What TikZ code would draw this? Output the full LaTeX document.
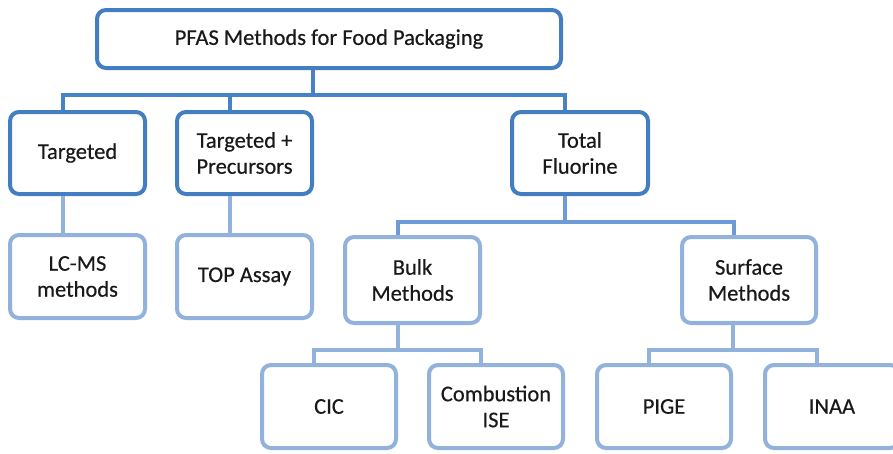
\documentclass[tikz,border=0pt]{standalone}
\usepackage{fontspec}
\setmainfont{Carlito}
\newfontfamily\labelfont{Carlito}[FakeBold=0.4]
\definecolor{boxdark}{RGB}{68,126,194}
\definecolor{boxlight}{RGB}{146,178,222}
\definecolor{linedark}{RGB}{72,130,198}
\definecolor{linemid}{RGB}{110,155,214}
\definecolor{linelight}{RGB}{146,178,222}
\definecolor{txt}{RGB}{25,25,25}
\tikzset{
  box/.style={draw, rounded corners=9pt, line width=4pt, fill=white,
    align=center, text=txt, inner sep=2pt,
    font=\labelfont\fontsize{22.5}{26}\selectfont},
  mainbox/.style={box, draw=boxdark},
  subbox/.style={box, draw=boxlight},
  conn/.style={line width=4pt},
}
\begin{document}
\begin{tikzpicture}[x=1pt, y=-1pt]
\clip (0,0) rectangle (893,453);
\fill[white] (0,0) rectangle (893,453);

% level 1
\node[mainbox, minimum width=464pt, minimum height=58pt] (root) at (329,39) {PFAS Methods for Food Packaging};

% level 2
\node[mainbox, minimum width=135pt, minimum height=82pt] (tgt) at (77.5,153) {Targeted};
\node[mainbox, minimum width=135pt, minimum height=82pt] (tprec) at (244.5,153) {Targeted +\\Precursors};
\node[mainbox, minimum width=136pt, minimum height=82pt] (tf) at (580,153) {Total\\Fluorine};

% level 3
\node[subbox, minimum width=135pt, minimum height=83pt] (lcms) at (77.5,276.5) {LC-MS\\methods};
\node[subbox, minimum width=135pt, minimum height=83pt] (topa) at (244.5,276.5) {TOP Assay};
\node[subbox, minimum width=135pt, minimum height=86pt] (bulk) at (412.5,280) {Bulk\\Methods};
\node[subbox, minimum width=134pt, minimum height=86pt] (surf) at (749,280) {Surface\\Methods};

% level 4
\node[subbox, minimum width=134pt, minimum height=83pt] (cic) at (329,406.5) {CIC};
\node[subbox, minimum width=134pt, minimum height=83pt] (comb) at (496,406.5) {Combustion\\ISE};
\node[subbox, minimum width=134pt, minimum height=83pt] (pige) at (664,406.5) {PIGE};
\node[subbox, minimum width=134pt, minimum height=83pt] (inaa) at (832,406.5) {INAA};

% connectors: elbow buses, dropped 15pt left of each box centre
\foreach \c in {tgt,tprec,tf}
  \draw[conn, draw=linedark] ([xshift=-16pt]root.south) -- ++(0,25) -| ([xshift=-15pt]\c.north);
\draw[conn, draw=linelight] ([xshift=-15pt]tgt.south) -- ([xshift=-15pt]lcms.north);
\draw[conn, draw=linelight] ([xshift=-15pt]tprec.south) -- ([xshift=-15pt]topa.north);
\foreach \c in {bulk,surf}
  \draw[conn, draw=linemid] ([xshift=-15pt]tf.south) -- ++(0,26) -| ([xshift=-15pt]\c.north);
\foreach \c in {cic,comb}
  \draw[conn, draw=linelight] ([xshift=-15pt]bulk.south) -- ++(0,25) -| ([xshift=-15pt]\c.north);
\foreach \c in {pige,inaa}
  \draw[conn, draw=linelight] ([xshift=-16pt]surf.south) -- ++(0,25) -| ([xshift=-15pt]\c.north);
\end{tikzpicture}
\end{document}
